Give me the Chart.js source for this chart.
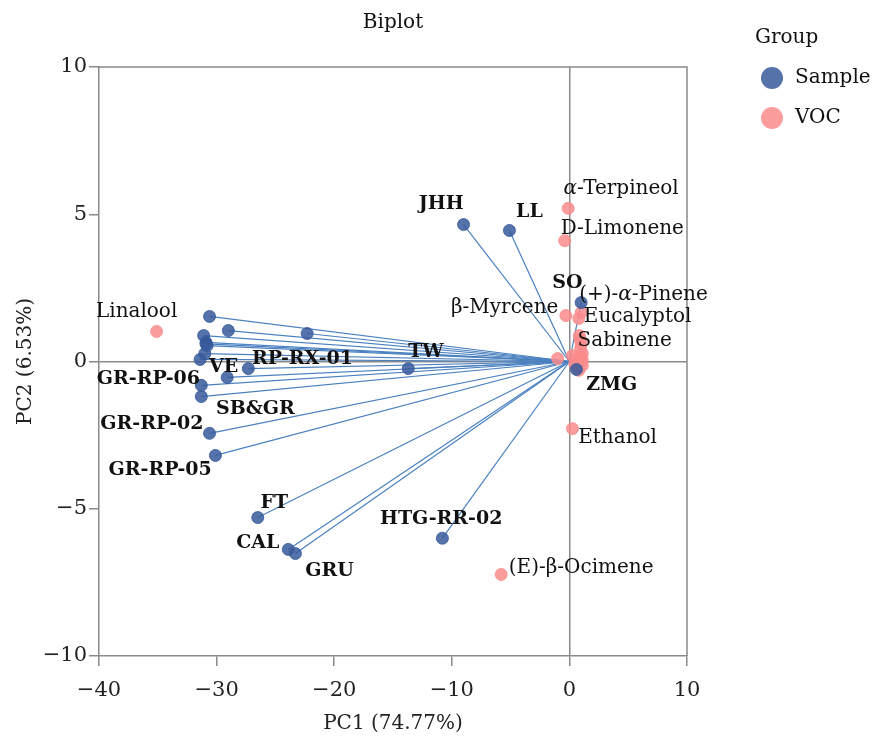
<!DOCTYPE html>
<html>
<head>
<meta charset="utf-8">
<script src="https://cdn.jsdelivr.net/npm/chart.js@4"></script>
<style>
  body { margin: 0; background: #fff; }
  #wrap { width: 875px; height: 737px; }
</style>
</head>
<body>
<div id="wrap"><canvas id="biplot" width="875" height="737"></canvas></div>
<script>
// ---- data ----
const sampleNames = ['JHH', 'LL', 'SO', 'ZMG', 'TW', 'RP-RX-01', 'VE', 'GR-RP-06', 'SB&GR',
    'GR-RP-02', 'GR-RP-05', 'FT', 'CAL', 'GRU', 'HTG-RR-02',
    '', '', '', '', '', '', '', '', ''];
const sampleX = [-9.0, -5.1, 1.0, 0.6, -13.7, -27.3, -29.1, -31.3, -31.3,
    -30.6, -30.1, -26.5, -23.9, -23.3, -10.8,
    -30.6, -29.0, -22.3, -31.1, -30.9, -30.9, -30.8, -31.0, -31.4];
const sampleY = [4.65, 4.45, 2.0, -0.27, -0.24, -0.24, -0.54, -0.81, -1.19,
    -2.44, -3.19, -5.3, -6.38, -6.52, -6.0,
    1.53, 1.05, 0.95, 0.88, 0.65, 0.6, 0.54, 0.27, 0.07];
// where the repelled label text sits (data units)
const sampleLabelX = [-10.9, -3.4, -0.17, 3.6, -12.2, -22.7, -29.4, -35.8, -26.7,
    -35.5, -34.8, -25.1, -26.5, -20.4, -10.9];
const sampleLabelY = [5.33, 5.06, 2.65, -0.81, 0.31, 0.07, -0.2, -0.58, -1.6,
    -2.14, -3.7, -4.82, -6.18, -7.1, -5.36];

const vocNames = ['Linalool', 'α-Terpineol', 'D-Limonene', 'β-Myrcene', '(+)-α-Pinene',
    'Eucalyptol', 'Sabinene', 'Ethanol', '(E)-β-Ocimene',
    '', '', '', '', '', '', '', '', '', '', '', '', '', ''];
const vocX = [-35.1, -0.1, -0.4, -0.3, 1.0, 0.8, 0.85, 0.26, -5.8,
    1.0, 0.95, 1.1, 1.0, 1.1, 0.85, 0.6, 0.45, 1.1, 0.7, -1.0, 0.26, 0.9, 0.8];
const vocY = [1.02, 5.2, 4.1, 1.56, 1.66, 1.46, 0.88, -2.28, -7.23,
    0.6, 0.44, 0.27, 0.14, 0.03, -0.03, 0.1, -0.07, -0.14, -0.2, 0.1, 0.2, 0.75, -0.3];
const vocLabelX = [-36.8, 4.4, 4.5, -5.5, 6.3, 5.8, 4.7, 4.1, 1.0];
const vocLabelY = [1.7, 5.87, 4.52, 1.83, 2.27, 1.53, 0.71, -2.58, -7.0];

const xTicks = [-40, -30, -20, -10, 0, 10];
const yTicks = [-10, -5, 0, 5, 10];

const SERIF = '"DejaVu Serif", serif';
const SAMPLE_COL = 'rgba(55, 90, 155, 0.85)';
const VOC_COL = 'rgba(250, 140, 140, 0.85)';
const ARROW_COL = '#4a80c0';
const AXIS_COL = '#8a8a8a';

// one origin->sample segment per sample
const arrowSets = sampleX.map((x, i) => ({
    type: 'scatter',
    data: [{ x: 0, y: 0 }, { x: x, y: sampleY[i] }],
    showLine: true,
    borderColor: ARROW_COL,
    borderWidth: 1.2,
    pointRadius: 0,
    order: 3
}));

const fmt = v => String(v).replace('-', '\u2212');

function drawText(ctx, text, x, y, font, italicFont) {
    // draws with α italic, centred on x
    const parts = text.split(/(α)/).filter(p => p);
    let total = 0;
    const widths = parts.map(p => {
        ctx.font = p === 'α' ? italicFont : font;
        const w = ctx.measureText(p).width;
        total += w;
        return w;
    });
    let cx = x - total / 2;
    ctx.textAlign = 'left';
    parts.forEach((p, i) => {
        ctx.font = p === 'α' ? italicFont : font;
        ctx.fillText(p, cx, y);
        cx += widths[i];
    });
}

const extras = {
    id: 'extras',
    beforeDatasetsDraw(chart) {
        const { ctx, chartArea: a } = chart;
        ctx.save();
        ctx.strokeStyle = AXIS_COL;
        ctx.lineWidth = 1.5;
        ctx.beginPath();
        ctx.moveTo(a.left, a.top);
        ctx.lineTo(a.right, a.top);
        ctx.lineTo(a.right, a.bottom);
        ctx.stroke();
        ctx.restore();
    },
    afterDatasetsDraw(chart) {
        const { ctx, scales: { x, y }, chartArea: a } = chart;
        ctx.save();
        ctx.fillStyle = '#111';
        ctx.textBaseline = 'middle';
        const bold = 'bold 19px ' + SERIF;
        sampleLabelX.forEach((lx, i) => {
            drawText(ctx, sampleNames[i], x.getPixelForValue(lx), y.getPixelForValue(sampleLabelY[i]), bold, bold);
        });
        const reg = '20px ' + SERIF;
        const ita = 'italic 20px ' + SERIF;
        vocLabelX.forEach((lx, i) => {
            drawText(ctx, vocNames[i], x.getPixelForValue(lx), y.getPixelForValue(vocLabelY[i]), reg, ita);
        });

        // title
        ctx.font = '20px ' + SERIF;
        ctx.textAlign = 'center';
        ctx.fillText('Biplot', (a.left + a.right) / 2, 23);

        // legend
        ctx.textAlign = 'left';
        ctx.fillText('Group', 755, 38);
        [['Sample', SAMPLE_COL], ['VOC', VOC_COL]].forEach(([name, col], i) => {
            const cy = 78 + i * 40;
            ctx.fillStyle = col;
            ctx.beginPath();
            ctx.arc(772, cy, 11, 0, Math.PI * 2);
            ctx.fill();
            ctx.fillStyle = '#111';
            ctx.fillText(name, 795, cy);
        });
        ctx.restore();
    }
};

const axisCommon = {
    type: 'linear',
    border: { color: AXIS_COL, width: 1.5 },
    grid: {
        color: c => (c.tick && c.tick.value === 0 ? AXIS_COL : 'transparent'),
        lineWidth: 1.5,
        tickColor: AXIS_COL,
        tickLength: 10
    }
};

new Chart(document.getElementById('biplot'), {
    type: 'scatter',
    data: {
        datasets: [
            {
                label: 'Sample',
                data: sampleX.map((x, i) => ({ x: x, y: sampleY[i] })),
                backgroundColor: SAMPLE_COL,
                borderColor: SAMPLE_COL,
                pointRadius: 6,
                order: 1
            },
            {
                label: 'VOC',
                data: vocX.map((x, i) => ({ x: x, y: vocY[i] })),
                backgroundColor: VOC_COL,
                borderColor: VOC_COL,
                pointRadius: 6,
                order: 2
            },
            ...arrowSets
        ]
    },
    options: {
        responsive: false,
        animation: false,
        layout: { padding: { top: 67, right: 188, left: 0, bottom: 0 } },
        plugins: { legend: { display: false }, tooltip: { enabled: false } },
        scales: {
            x: {
                ...axisCommon,
                min: -40, max: 10,
                afterBuildTicks: s => { s.ticks = xTicks.map(v => ({ value: v })); },
                afterFit: s => { s.height = 81; },
                ticks: { callback: fmt, color: '#222', font: { family: SERIF, size: 21 }, padding: 12, maxRotation: 0 },
                title: { display: true, text: 'PC1 (74.77%)', color: '#222', font: { family: SERIF, size: 20 }, padding: { top: 0, bottom: 1 } }
            },
            y: {
                ...axisCommon,
                min: -10, max: 10,
                afterBuildTicks: s => { s.ticks = yTicks.map(v => ({ value: v })); },
                afterFit: s => { s.width = 99; },
                ticks: { callback: fmt, color: '#222', font: { family: SERIF, size: 21 }, padding: 2 },
                title: { display: true, text: 'PC2 (6.53%)', color: '#222', font: { family: SERIF, size: 20 }, padding: { top: 14, bottom: 0 } }
            }
        }
    },
    plugins: [extras]
});
</script>
</body>
</html>
